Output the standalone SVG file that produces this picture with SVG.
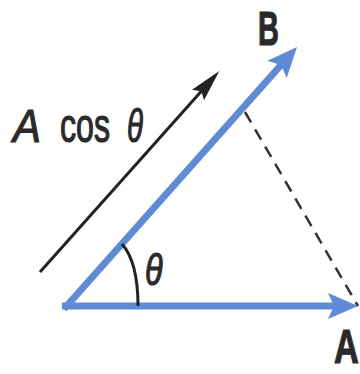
<svg xmlns="http://www.w3.org/2000/svg" width="360" height="374" viewBox="0 0 360 374">
<style>
.blue{stroke:#5f8ad6;stroke-width:7;fill:none;stroke-linecap:butt}
.blk{stroke:#222;stroke-width:3;fill:none}
.dash{stroke:#333;stroke-width:2.5;fill:none;stroke-dasharray:12 8}
.lbl{font-family:"Liberation Sans",Arial,sans-serif;fill:#2a2a2a;stroke:#2a2a2a;stroke-width:1.2}
</style>
<defs>
<marker id="ab" markerUnits="userSpaceOnUse" markerWidth="32" markerHeight="28" refX="10" refY="13" orient="auto">
<path d="M0,0 L30,13 L0,26 L6,13 z" fill="#5f8ad6"/>
</marker>
<marker id="ak" markerUnits="userSpaceOnUse" markerWidth="34" markerHeight="18" refX="12" refY="8" orient="auto">
<path d="M0,0 L32,8 L0,16 L5,8 z" fill="#222"/>
</marker>
</defs>
<rect width="360" height="374" fill="#fff"/>
<g id="connectors">
<line id="vecA" class="blue" x1="62" y1="306" x2="338" y2="306" marker-end="url(#ab)"/>
<line id="vecB" class="blue" x1="64" y1="309" x2="283.7" y2="62" marker-end="url(#ab)"/>
<line id="proj" class="blk" x1="40" y1="272" x2="206" y2="86" marker-end="url(#ak)"/>
<line id="perp" class="dash" x1="245" y1="112" x2="358" y2="306"/>
<path id="arc" class="blk" stroke-width="2.5" d="M122,244 Q138,262 138,306"/>
</g>
<g id="label-B"><text class="lbl" transform="translate(258,45) scale(0.59,1)" font-size="49" font-weight="bold">B</text></g>
<g id="label-A"><text class="lbl" transform="translate(334,363) scale(0.7,1)" font-size="49" font-weight="bold">A</text></g>
<g id="label-Acos">
<text class="lbl" transform="translate(13,142) scale(0.89,1)" font-size="47" font-style="italic">A</text>
<text class="lbl" transform="translate(60,142) scale(0.67,1)" font-size="48">cos</text>
<text class="lbl" transform="translate(127,142) scale(0.64,1)" font-size="46" font-style="italic">θ</text>
</g>
<g id="label-theta"><text class="lbl" transform="translate(145,285) scale(0.72,1)" font-size="45" font-style="italic">θ</text></g>
</svg>
